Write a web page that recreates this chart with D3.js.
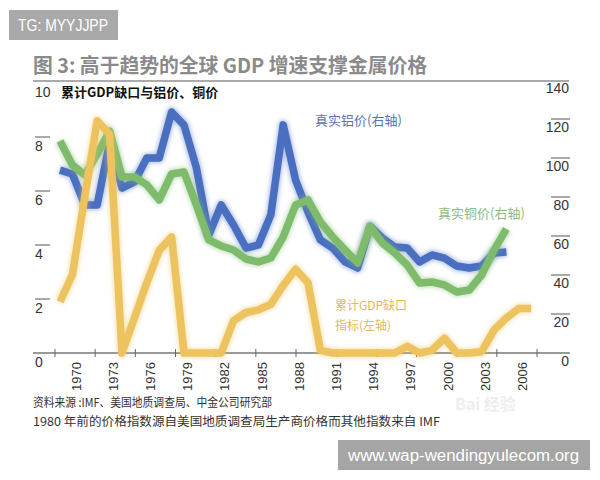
<!DOCTYPE html>
<html><head><meta charset="utf-8">
<script src="https://cdn.jsdelivr.net/npm/d3@7"></script>
<style>body{margin:0;background:#fff}svg{display:block}</style>
</head><body>
<svg id="c" width="600" height="480"></svg>
<script>
// ---- data ----
const gapYears = [1970,1971,1972,1973,1974,1975,1976,1977,1978,1979,1980,1981,1982,1983,1984,1985,1986,1987,1988,1989,1990,1991,1992,1993,1994,1995,1996,1997,1998,1999,2000,2001,2002,2003,2004,2005,2006,2007,2008];
const gapValues = [1.9,2.9,5.8,8.6,8.1,0,1.3,2.6,3.8,4.3,0,0,0,0,1.2,1.5,1.6,1.8,2.5,3.1,2.6,0.1,0,0,0,0,0,0,0.25,0,0.1,0.55,0,0,0.05,0.85,1.3,1.65,1.65];
const metalYears = [1970,1971,1972,1973,1974,1975,1976,1977,1978,1979,1980,1981,1982,1983,1984,1985,1986,1987,1988,1989,1990,1991,1992,1993,1994,1995,1996,1997,1998,1999,2000,2001,2002,2003,2004,2005,2006];
const aluminium = [93.8,91.8,75.9,75.9,108,84.6,87.7,100,100,123.6,116.9,95,60.5,75.9,65.6,53.8,55.4,70.8,117,88.7,72.3,58,53.8,46.7,43.6,65,59,54.4,53.8,46.7,50.3,48.7,44.6,43.6,44.6,51.3,51.8];
const copper = [108.7,96.4,91.3,102,113.8,90.3,90.3,86.2,78.5,91.8,92.8,75.9,58,54.9,52.8,48.2,46.7,48.7,59.5,75.9,78.5,67.2,59.5,52.8,46.2,65,56.4,51.3,45.1,35.9,36.4,34.9,31.3,32.3,40,52.8,63.6];
const leftTicks = [0,2,4,6,8,10];
const rightTicks = [0,20,40,60,80,100,120,140];
const xLabels = ["1970","1973","1976","1979","1982","1985","1988","1991","1994","1997","2000","2003","2006"];
const title = "图 3: 高于趋势的全球 GDP 增速支撑金属价格";
const subtitle = "累计GDP缺口与铝价、铜价";
const notes = ["资料来源 :IMF、美国地质调查局、中金公司研究部","1980 年前的价格指数源自美国地质调查局生产商价格而其他指数来自 IMF"];

// ---- drawing ----
const svg = d3.select("#c");
const CJK = "'Noto Sans CJK SC', 'Noto Sans', sans-serif";
const NUM = "'Liberation Sans', 'DejaVu Sans', sans-serif";
const x = d3.scaleLinear().domain([1970, 2008]).range([60, 531.2]);
const yL = d3.scaleLinear().domain([0, 10]).range([353, 83]);
const yR = d3.scaleLinear().domain([0, 140]).range([353, 80]);
const xTick = d3.scalePoint().domain(xLabels).range([55, 537]);

const defs = svg.append("defs");
defs.append("filter").attr("id","blur").attr("x","-10%").attr("y","-10%").attr("width","120%").attr("height","120%")
  .append("feGaussianBlur").attr("stdDeviation", 2);

svg.append("rect").attr("width",600).attr("height",480).attr("fill","#fff");

// watermark box top-left
svg.append("rect").attr("x",9).attr("y",10).attr("width",109).attr("height",30).attr("fill","#a9a9a9");
svg.append("text").attr("x",18).attr("y",31).attr("fill","#fff").attr("font-family",NUM).attr("font-size",16)
  .attr("textLength",90).attr("lengthAdjust","spacingAndGlyphs").text("TG: MYYJJPP");

// title
svg.append("text").attr("x",33).attr("y",73).attr("fill","#8a8a8a").attr("font-family",CJK)
  .attr("font-weight","bold").attr("font-size",20).attr("textLength",394).attr("lengthAdjust","spacingAndGlyphs").text(title);
svg.append("line").attr("x1",33).attr("x2",569).attr("y1",81).attr("y2",81).attr("stroke","#8f8f8f").attr("stroke-width",1.5);
svg.append("text").attr("x",61).attr("y",97).attr("fill","#111").attr("font-family",CJK)
  .attr("font-weight","bold").attr("font-size",13).text(subtitle);

// left axis
const gl = svg.append("g");
gl.selectAll("line").data(leftTicks.filter(d=>d>0 && d<10)).join("line")
  .attr("x1",35).attr("x2",50).attr("y1",d=>yL(d)).attr("y2",d=>yL(d)).attr("stroke","#555").attr("stroke-width",1);
gl.selectAll("text").data(leftTicks).join("text")
  .attr("x",35).attr("y",d=>yL(d)+14).attr("font-family",NUM).attr("font-size",14).attr("fill","#333").text(d=>d);

// right axis
const gr = svg.append("g");
gr.selectAll("line").data(rightTicks.filter(d=>d>0 && d<140)).join("line")
  .attr("x1",551).attr("x2",570).attr("y1",d=>yR(d)).attr("y2",d=>yR(d)).attr("stroke","#555").attr("stroke-width",1);
gr.selectAll("text").data(rightTicks).join("text")
  .attr("x",569).attr("y",d=>yR(d)+13).attr("text-anchor","end").attr("font-family",NUM).attr("font-size",14).attr("fill","#333").text(d=>d);

// baseline + x ticks
svg.append("line").attr("x1",33).attr("x2",570).attr("y1",353).attr("y2",353).attr("stroke","#777").attr("stroke-width",1.5);
svg.append("g").selectAll("line").data(xLabels).join("line")
  .attr("x1",d=>xTick(d)).attr("x2",d=>xTick(d)).attr("y1",349).attr("y2",357).attr("stroke","#666").attr("stroke-width",1);
svg.append("g").selectAll("text").data(xLabels).join("text")
  .attr("transform",d=>`translate(${x(+d)+16},362) rotate(-90)`)
  .attr("text-anchor","end").attr("dy","0.35em").attr("font-family",NUM).attr("font-size",13).attr("fill","#333").text(d=>d);

// lines
const series = [
  {years: metalYears, vals: aluminium, y: yR, color: "#4a6fc0"},
  {years: metalYears, vals: copper, y: yR, color: "#7fbb6c"},
  {years: gapYears, vals: gapValues, y: yL, color: "#ecc35e"}
];
series.forEach(s => {
  const pts = s.years.map((yr,i)=>[yr, s.vals[i]]);
  const line = d3.line().x(d=>x(d[0])).y(d=>s.y(d[1]));
  svg.append("path").attr("d", line(pts)).attr("fill","none").attr("stroke",s.color)
    .attr("stroke-width",10).attr("stroke-opacity",0.45).attr("stroke-linejoin","round").attr("filter","url(#blur)");
  svg.append("path").attr("d", line(pts)).attr("fill","none").attr("stroke",s.color)
    .attr("stroke-width",7.5).attr("stroke-linejoin","round").attr("stroke-linecap","butt");
});

// series labels
svg.append("text").attr("x",315).attr("y",125).attr("fill","#5b72b3").attr("font-family",CJK).attr("font-size",13).text("真实铝价(右轴)");
svg.append("text").attr("x",438).attr("y",218).attr("fill","#8dbb7c").attr("font-family",CJK).attr("font-size",13).text("真实铜价(右轴)");
svg.append("text").attr("x",335).attr("y",310).attr("fill","#e2b85c").attr("font-family",CJK).attr("font-size",12).text("累计GDP缺口");
svg.append("text").attr("x",335).attr("y",330).attr("fill","#e2b85c").attr("font-family",CJK).attr("font-size",12).text("指标(左轴)");

// notes
svg.selectAll("text.note").data(notes).join("text").attr("class","note")
  .attr("x",33).attr("y",(d,i)=>407+i*19).attr("fill","#333").attr("font-family",CJK).attr("font-size",12)
  .attr("textLength",(d,i)=>i===0?239:407).attr("lengthAdjust","spacingAndGlyphs").text(d=>d);

// faint Baidu watermark
svg.append("text").attr("x",455).attr("y",410).attr("fill","#eeeeee").attr("font-family",CJK).attr("font-size",16).attr("font-weight","bold").text("Bai  经验");

// watermark box bottom-right
svg.append("rect").attr("x",338).attr("y",440).attr("width",252).attr("height",30).attr("fill","#a5a5a5");
svg.append("text").attr("x",348).attr("y",461).attr("fill","#fff").attr("font-family",NUM).attr("font-size",16)
  .attr("textLength",231).attr("lengthAdjust","spacingAndGlyphs").text("www.wap-wendingyulecom.org");
</script>
</body></html>
